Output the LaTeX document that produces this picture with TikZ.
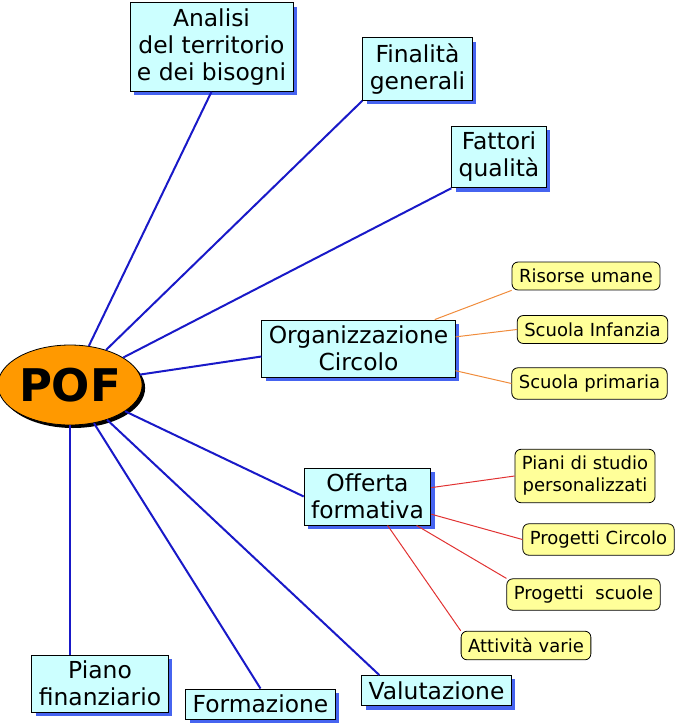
\documentclass[tikz,border=0pt]{standalone}
\usepackage{fontspec}
\setmainfont{DejaVu Sans}
\usetikzlibrary{shapes.geometric,shadows,calc}

\definecolor{pofOrange}{RGB}{255,153,0}
\definecolor{boxCyan}{RGB}{204,255,255}
\definecolor{boxYellow}{RGB}{255,255,153}
\definecolor{shadowBlue}{RGB}{70,100,240}
\definecolor{lineBlue}{RGB}{25,25,200}
\definecolor{lineOrange}{RGB}{240,140,60}
\definecolor{lineRed}{RGB}{225,50,50}

\tikzset{
    topic/.style={draw=black, fill=boxCyan, align=center, inner xsep=3.5pt, inner ysep=3pt,
        font=\fontsize{11.7}{13.5}\selectfont,
        drop shadow={fill=shadowBlue, opacity=1, shadow xshift=2pt, shadow yshift=-2pt}},
    detail/.style={draw=black, fill=boxYellow, rounded corners=3pt, align=center, inner sep=3.5pt,
        font=\fontsize{9}{11}\selectfont},
    mainlink/.style={lineBlue, line width=1pt},
    orglink/.style={lineOrange, line width=0.5pt},
    offlink/.style={lineRed, line width=0.5pt}
}

\begin{document}
\begin{tikzpicture}[x=0.5pt, y=-0.5pt]
    \useasboundingbox (0,0) rectangle (678,723);

    % Centre
    \node[ellipse, draw=black, fill=pofOrange, minimum width=70pt, minimum height=40pt, inner sep=0pt,
        font=\fontsize{22.5}{27}\bfseries,
        drop shadow={fill=black, opacity=1, shadow xshift=1.5pt, shadow yshift=-1.5pt}] (pof) at (70,385) {POF};

    % Main topics
    \node[topic] (analisi) at (211.5,47) {Analisi\\del territorio\\e dei bisogni};
    \node[topic] (finalita) at (417.5,69) {Finalità\\generali};
    \node[topic] (fattori) at (499,157) {Fattori\\qualità};
    \node[topic] (org) at (358.5,348.5) {Organizzazione\\Circolo};
    \node[topic] (offerta) at (367.5,496.5) {Offerta\\formativa};
    \node[topic] (piano) at (100,683.5) {Piano\\finanziario};
    \node[topic] (formazione) at (260.5,704) {Formazione};
    \node[topic] (valutazione) at (436.5,690.5) {Valutazione};

    % Details
    \node[detail] (risorse) at (586,276) {Risorse umane};
    \node[detail] (infanzia) at (592.5,329.5) {Scuola Infanzia};
    \node[detail] (primaria) at (589.5,383.5) {Scuola primaria};
    \node[detail] (piani) at (585,476) {Piani di studio\\personalizzati};
    \node[detail] (progcircolo) at (598.5,539.5) {Progetti Circolo};
    \node[detail] (progscuole) at (583.5,594.5) {Progetti~ scuole};
    \node[detail] (attivita) at (526,645.5) {Attività varie};

    % Links from POF
    \draw[mainlink] (pof) -- (analisi.south);
    \draw[mainlink] (pof) -- (finalita.south west);
    \draw[mainlink] (pof) -- (fattori.south west);
    \draw[mainlink] (pof) -- ([yshift=-4pt]org.west);
    \draw[mainlink] (pof) -- (offerta.west);
    \draw[mainlink] (pof) -- ($(valutazione.north west)!0.12!(valutazione.north east)$);
    \draw[mainlink] (pof) -- (formazione.north);
    \draw[mainlink] (pof) -- (pof |- piano.north);

    % Links to details
    \draw[orglink] (org) -- (risorse.south west);
    \draw[orglink] (org) -- (infanzia.west);
    \draw[orglink] (org) -- (primaria.west);
    \draw[offlink] (offerta) -- (piani.west);
    \draw[offlink] (offerta) -- (progcircolo.west);
    \draw[offlink] (offerta) -- (progscuole.north west);
    \draw[offlink] (offerta) -- (attivita.north west);
\end{tikzpicture}
\end{document}
